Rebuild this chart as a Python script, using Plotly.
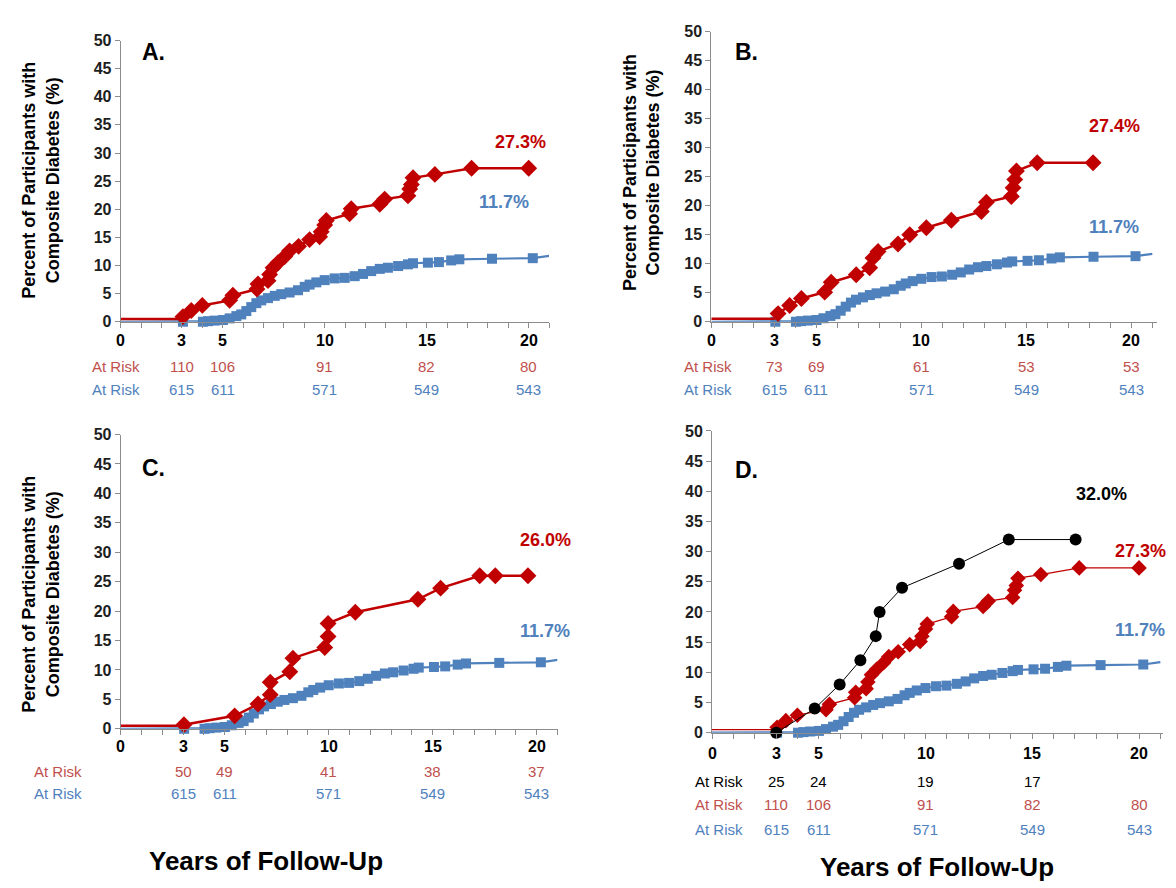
import plotly.graph_objects as go

W, H = 1176, 888

# ---------------- data ----------------
# Reference group (blue squares), shared by all panels
blue_x = [0, 3.05, 4.03, 4.28, 4.6, 5.01, 5.34, 5.67, 5.91, 6.16, 6.4, 6.65, 6.89, 7.22,
          7.55, 7.87, 8.28, 8.69, 9.02, 9.26, 9.59, 10.0, 10.49, 10.98, 11.47, 11.88,
          12.28, 12.7, 13.1, 13.6, 14.08, 14.33, 15.06, 15.6, 16.2, 16.6, 18.2, 20.2, 21.0]
blue_y = [0, 0, 0, 0.1, 0.2, 0.3, 0.6, 1.0, 1.3, 1.9, 2.6, 3.3, 3.8, 4.2,
          4.6, 4.9, 5.2, 5.6, 6.2, 6.6, 7.0, 7.4, 7.7, 7.8, 8.1, 8.5,
          9.0, 9.4, 9.6, 9.9, 10.2, 10.4, 10.5, 10.6, 10.9, 11.1, 11.2, 11.3, 11.7]

# Panel A (and D) red diamonds
redA_x = [0, 3.0, 3.05, 3.46, 4.0, 5.34, 5.5, 6.68, 6.73, 7.22, 7.3, 7.47, 7.71, 8.04,
          8.28, 8.72, 9.26, 9.75, 9.83, 10.0, 10.08, 11.22, 11.3, 12.7, 12.94, 14.08,
          14.17, 14.25, 14.33, 15.4, 17.2, 20.0]
redA_y = [0.5, 0.5, 0.9, 2.0, 2.9, 3.8, 4.7, 5.8, 6.7, 7.3, 8.4, 9.6, 10.5, 11.6,
          12.6, 13.4, 14.6, 15.1, 16.0, 17.2, 18.0, 19.2, 20.1, 20.9, 21.8, 22.4,
          23.6, 24.4, 25.6, 26.2, 27.3, 27.3]

# Panel B red diamonds
redB_x = [0, 3.0, 3.18, 3.73, 4.29, 5.4, 5.71, 6.9, 7.54, 7.7, 7.94, 8.89, 9.45, 10.24,
          11.43, 12.86, 13.1, 14.29, 14.37, 14.45, 14.53, 15.52, 18.18]
redB_y = [0.5, 0.5, 1.4, 2.8, 4.0, 5.1, 6.8, 8.1, 9.3, 11.0, 12.1, 13.4, 15.0, 16.2,
          17.5, 19.0, 20.6, 21.6, 23.1, 24.5, 26.0, 27.4, 27.4]

# Panel C red diamonds
redC_x = [0, 3.0, 3.04, 5.48, 6.6, 7.19, 7.19, 8.13, 8.28, 9.81, 9.97, 9.97, 11.28,
          14.29, 15.38, 17.26, 18.01, 19.58]
redC_y = [0.5, 0.5, 0.7, 2.2, 4.2, 5.8, 7.9, 9.7, 12.0, 13.8, 15.7, 17.9, 19.8,
          22.0, 23.9, 26.0, 26.0, 26.0]

# Panel D black circles
blackD_x = [3.01, 4.81, 5.98, 6.95, 7.67, 7.85, 8.9, 11.57, 13.9, 17.03]
blackD_y = [0, 4, 8, 12, 16, 20, 24, 28, 32, 32]

tick_vals = [0, 3, 5, 10, 15, 20]
tick_text = ["0", "3", "5", "10", "15", "20"]
risk_years = [3, 5, 10, 15, 20]
risk_blue = [615, 611, 571, 549, 543]
risk_A_red = [110, 106, 91, 82, 80]
risk_B_red = [73, 69, 61, 53, 53]
risk_C_red = [50, 49, 41, 38, 37]
risk_D_black = [25, 24, 19, 17]

final_A = ["27.3%", "11.7%"]
final_B = ["27.4%", "11.7%"]
final_C = ["26.0%", "11.7%"]
final_D = ["32.0%", "27.3%", "11.7%"]

# ---------------- styles / layout ----------------
RED = "#C00000"
BLUE = "#4F81BD"
RISK_RED = "#C0504D"
RISK_BLUE = "#4F81BD"
AXC = "#8C8C8C"
FONT = "Liberation Sans, Arial, sans-serif"

# panel geometry in pixels: left, right, bottom(y=0), top(y=50), x max
panels = {
    "A": dict(l=112.7, r=541.1, b=311.7, t=25.0, xmax=21.0, n=""),
    "B": dict(l=703.3, r=1148.5, b=311.7, t=16.0, xmax=21.2, n="2"),
    "C": dict(l=112.7, r=549.5, b=726.7, t=426.7, xmax=21.0, n="3"),
    "D": dict(l=704.0, r=1154.5, b=730.7, t=423.0, xmax=21.1, n="4"),
}


def px(x):
    return x / W


def py(y):
    return 1 - y / H


fig = go.Figure()
layout = dict(width=W, height=H, margin=dict(l=0, r=0, t=0, b=0),
              paper_bgcolor="white", plot_bgcolor="white", showlegend=False,
              font=dict(family=FONT))

for key, p in panels.items():
    n = p["n"]
    layout["xaxis" + n] = dict(domain=[px(p["l"]), px(p["r"])], range=[0, p["xmax"]],
                               anchor="y" + n, tick0=0, dtick=1, ticks="outside",
                               ticklen=5, tickcolor=AXC, showticklabels=False,
                               showline=True, linecolor=AXC, linewidth=1,
                               showgrid=False, zeroline=False, fixedrange=True)
    layout["yaxis" + n] = dict(domain=[py(p["b"]), py(p["t"])], range=[0, 50],
                               anchor="x" + n, dtick=5, ticks="outside", ticklen=5,
                               tickcolor=AXC, showline=True, linecolor=AXC, linewidth=1,
                               showgrid=False, zeroline=False,
                               tickfont=dict(family=FONT, size=16, color="#1E1E1E",
                                             weight="bold"), fixedrange=True)


def sizes(n, s, skip_start, skip_end=0):
    out = [s] * n
    for i in range(skip_start):
        out[i] = 0
    for i in range(skip_end):
        out[n - 1 - i] = 0
    return out


def add_blue(n):
    fig.add_trace(go.Scatter(x=blue_x, y=blue_y, mode="lines+markers",
                             xaxis="x" + n, yaxis="y" + n, cliponaxis=False,
                             line=dict(color=BLUE, width=2.2),
                             marker=dict(symbol="square", color=BLUE, opacity=1,
                                         line=dict(width=0),
                                         size=sizes(len(blue_x), 10, 1, 1))))


def add_red(xs, ys, n, width=2.5, size=13):
    fig.add_trace(go.Scatter(x=xs, y=ys, mode="lines+markers",
                             xaxis="x" + n, yaxis="y" + n, cliponaxis=False,
                             line=dict(color=RED, width=width),
                             marker=dict(symbol="diamond", color=RED, opacity=1,
                                         line=dict(width=0),
                                         size=sizes(len(xs), size, 2))))


add_blue("")
add_red(redA_x, redA_y, "")
add_blue("2")
add_red(redB_x, redB_y, "2")
add_blue("3")
add_red(redC_x, redC_y, "3")
add_blue("4")
add_red(redA_x, redA_y, "4", width=1.3, size=12)
fig.add_trace(go.Scatter(x=blackD_x, y=blackD_y, mode="lines+markers",
                         xaxis="x4", yaxis="y4", cliponaxis=False,
                         line=dict(color="black", width=1),
                         marker=dict(symbol="circle", color="black", size=12, opacity=1)))

ann = []


def txt(x, y, s, size=15, color="black", bold=False, xref="paper", angle=0):
    ann.append(dict(x=x if xref != "paper" else px(x), y=py(y), xref=xref, yref="paper",
                    text=s, showarrow=False, xanchor="center", yanchor="middle",
                    textangle=angle,
                    font=dict(family=FONT, size=size, color=color,
                              weight="bold" if bold else "normal")))


# x tick labels (text rows under each panel)
tick_row_y = {"A": 331, "B": 331, "C": 745, "D": 752}
for key, p in panels.items():
    for v, t in zip(tick_vals, tick_text):
        txt(v, tick_row_y[key], t, size=16, color="black", bold=True, xref="x" + p["n"])

# at-risk rows
rows = [
    ("A", 108, 357, RISK_RED, risk_A_red),
    ("A", 108, 381, RISK_BLUE, risk_blue),
    ("B", 700, 357, RISK_RED, risk_B_red),
    ("B", 700, 381, RISK_BLUE, risk_blue),
    ("C", 50, 770, RISK_RED, risk_C_red),
    ("C", 50, 793, RISK_BLUE, risk_blue),
    ("D", 711, 780, "black", risk_D_black),
    ("D", 711, 804, RISK_RED, risk_A_red),
    ("D", 711, 829, RISK_BLUE, risk_blue),
]
for key, lx, y, col, vals in rows:
    txt(lx, y, "At Risk", size=15, color=col)
    for yr, v in zip(risk_years, vals):
        txt(yr, y, str(v), size=15, color=col, xref="x" + panels[key]["n"])

# panel letters
for s, x, y in [("A.", 145, 37), ("B.", 738, 37), ("C.", 145, 461), ("D.", 738, 463)]:
    txt(x, y, s, size=23, bold=True)

# final percentage labels
txt(512, 128, final_A[0], 18, RED, True)
txt(496, 190, final_A[1], 18, BLUE, True)
txt(1106, 112, final_B[0], 18, RED, True)
txt(1106, 215, final_B[1], 18, BLUE, True)
txt(537, 534, final_C[0], 18, RED, True)
txt(537, 627, final_C[1], 18, BLUE, True)
txt(1093, 487, final_D[0], 18, "black", True)
txt(1132, 545, final_D[1], 18, RED, True)
txt(1132, 626, final_D[2], 18, BLUE, True)

# y titles
ytitle = "Percent of Participants with<br>Composite Diabetes (%)"
txt(33, 168, ytitle, 18, "black", True, angle=-90)
txt(634, 160, ytitle, 18, "black", True, angle=-90)
txt(33, 590, ytitle, 18, "black", True, angle=-90)

# x titles
txt(258, 862, "Years of Follow-Up", 26, "black", True)
txt(929, 868, "Years of Follow-Up", 26, "black", True)

layout["annotations"] = ann
fig.update_layout(**layout)
fig.write_html("out.html")
